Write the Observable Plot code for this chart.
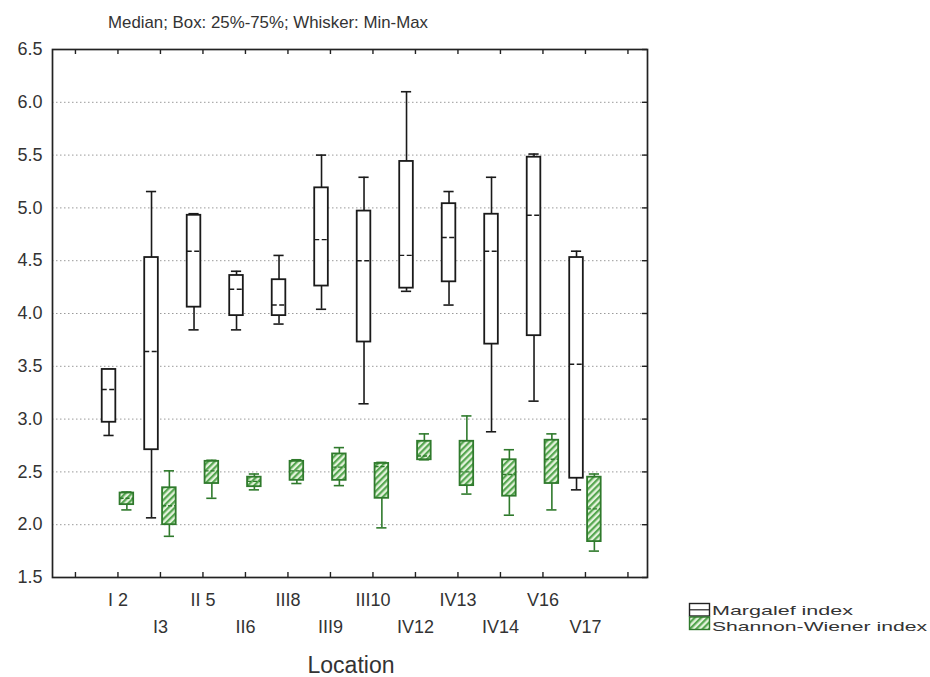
<!DOCTYPE html>
<html>
<head>
<meta charset="utf-8">
<script src="https://cdn.jsdelivr.net/npm/d3@7"></script>
<script src="https://cdn.jsdelivr.net/npm/@observablehq/plot@0.6"></script>
<style>
  html, body { margin: 0; padding: 0; background: #fff; }
  #wrap { position: relative; width: 930px; height: 677px; overflow: hidden; }
  #overlay { position: absolute; left: 0; top: 0; pointer-events: none; }
  svg text { font-family: "Liberation Sans", Arial, sans-serif; }
</style>
</head>
<body>
<div id="wrap">
  <div id="chart"></div>
  <svg id="overlay" width="930" height="677" xmlns="http://www.w3.org/2000/svg">
    <defs>
      <pattern id="hatchLegend" width="4.5" height="4.5" patternUnits="userSpaceOnUse" patternTransform="rotate(45)">
        <rect width="4.5" height="4.5" fill="#e4f3dc"></rect>
        <rect width="2.2" height="4.5" fill="#55a650"></rect>
      </pattern>
    </defs>
    <text x="108" y="28" font-size="17" fill="#333" textLength="320" lengthAdjust="spacingAndGlyphs">Median; Box: 25%-75%; Whisker: Min-Max</text>
    <text x="351" y="673" font-size="23" fill="#333" text-anchor="middle">Location</text>
    <rect x="689.5" y="603.5" width="20" height="12.5" fill="#fff" stroke="#222" stroke-width="1.4"></rect>
    <line x1="689.5" x2="709.5" y1="609.8" y2="609.8" stroke="#222" stroke-width="1.2"></line>
    <rect x="689.5" y="617" width="20" height="12.5" fill="url(#hatchLegend)" stroke="#2f7a2c" stroke-width="1.4"></rect>
    <text x="712" y="615" font-size="13.5" fill="#333" textLength="141" lengthAdjust="spacingAndGlyphs">Margalef index</text>
    <text x="712" y="630.5" font-size="13.5" fill="#333" textLength="215" lengthAdjust="spacingAndGlyphs">Shannon-Wiener index</text>
  </svg>
</div>
<script>
// ---- Data ----
const locations = ["I 2", "I3", "II 5", "II6", "III8", "III9", "III10", "IV12", "IV13", "IV14", "V16", "V17"];

// Margalef index: min, Q1 (25%), median, Q3 (75%), max
const margalefMin = [2.845, 2.065, 3.845, 3.845, 3.90, 4.04, 3.145, 4.21, 4.08, 2.88, 3.17, 2.33];
const margalefQ1  = [2.97, 2.71, 4.06, 3.98, 3.98, 4.26, 3.73, 4.24, 4.30, 3.71, 3.79, 2.44];
const margalefMed = [3.28, 3.64, 4.59, 4.23, 4.08, 4.70, 4.50, 4.55, 4.72, 4.59, 4.93, 3.52];
const margalefQ3  = [3.47, 4.53, 4.93, 4.36, 4.32, 5.19, 4.97, 5.44, 5.04, 4.94, 5.48, 4.53];
const margalefMax = [3.47, 5.155, 4.945, 4.40, 4.55, 5.50, 5.29, 6.10, 5.155, 5.29, 5.51, 4.59];

// Shannon-Wiener index: min, Q1, median, Q3, max
const shannonMin = [2.14, 1.89, 2.25, 2.33, 2.39, 2.37, 1.97, 2.615, 2.29, 2.09, 2.14, 1.75];
const shannonQ1  = [2.19, 2.00, 2.39, 2.36, 2.42, 2.42, 2.25, 2.615, 2.37, 2.27, 2.39, 1.84];
const shannonMed = [2.25, 2.18, 2.51, 2.41, 2.51, 2.545, 2.55, 2.65, 2.50, 2.475, 2.62, 2.15];
const shannonQ3  = [2.30, 2.35, 2.60, 2.45, 2.60, 2.67, 2.58, 2.79, 2.79, 2.615, 2.80, 2.45];
const shannonMax = [2.31, 2.51, 2.61, 2.48, 2.615, 2.73, 2.59, 2.86, 3.03, 2.71, 2.86, 2.48];

const yTickValues = [1.5, 2.0, 2.5, 3.0, 3.5, 4.0, 4.5, 5.0, 5.5, 6.0, 6.5];
const gridValues = [2.0, 2.5, 3.0, 3.5, 4.0, 4.5, 5.0, 5.5, 6.0];

// ---- Build tables ----
function buildRows(series, mins, q1s, meds, q3s, maxs) {
  return locations.map((loc, i) => ({
    loc, idx: i + 1, series,
    min: mins[i], q1: q1s[i], med: meds[i], q3: q3s[i], max: maxs[i]
  }));
}
const margalefRows = buildRows("Margalef index", margalefMin, margalefQ1, margalefMed, margalefQ3, margalefMax);
const shannonRows = buildRows("Shannon-Wiener index", shannonMin, shannonQ1, shannonMed, shannonQ3, shannonMax);
const labelRows = locations.map((loc, i) => ({loc, idx: i + 1, row: i % 2}));
const slots = d3.range(0, locations.length + 2);

// ---- Layout ----
const W = 930, H = 677, mL = 52, mR = 283, mT = 49, mB = 100;
const plotW = W - mL - mR, plotH = H - mT - mB;
const tickLen = 5;
const boxHalf = 0.16, capHalf = 0.12;

function boxMarks(rows, off, stroke, fill, medDash) {
  const cx = d => d.idx + off;
  return [
    Plot.ruleX(rows, {x: cx, y1: "min", y2: "max", stroke, strokeWidth: 1.6}),
    Plot.ruleY(rows, {y: "max", x1: d => cx(d) - capHalf, x2: d => cx(d) + capHalf, stroke, strokeWidth: 1.6}),
    Plot.ruleY(rows, {y: "min", x1: d => cx(d) - capHalf, x2: d => cx(d) + capHalf, stroke, strokeWidth: 1.6}),
    Plot.rect(rows, {x1: d => cx(d) - boxHalf, x2: d => cx(d) + boxHalf, y1: "q1", y2: "q3", fill, stroke, strokeWidth: 1.8}),
    Plot.ruleY(rows, {y: "med", x1: d => cx(d) - boxHalf, x2: d => cx(d) + boxHalf, stroke, strokeWidth: 1.4, strokeDasharray: medDash})
  ];
}

const chart = Plot.plot({
  width: W, height: H,
  marginLeft: mL, marginRight: mR, marginTop: mT, marginBottom: mB,
  style: {fontFamily: "'Liberation Sans', Arial, sans-serif", background: "#fff", color: "#333"},
  x: {type: "linear", domain: [-0.54, locations.length + 1.46], axis: null},
  y: {type: "linear", domain: [1.5, 6.5]},
  marks: [
    Plot.ruleY(gridValues, {stroke: "#9a9a9a", strokeWidth: 1, strokeDasharray: "1.5,2.5"}),
    Plot.ruleX(slots, {x: d => d, insetTop: plotH - tickLen, stroke: "#222", strokeWidth: 1.4}),
    Plot.ruleX(slots, {x: d => d, insetBottom: plotH - tickLen, stroke: "#222", strokeWidth: 1.4}),
    Plot.ruleY(yTickValues, {insetLeft: plotW - tickLen, stroke: "#222", strokeWidth: 1.4}),
    ...boxMarks(margalefRows, -0.21, "#1a1a1a", "#ffffff", "5,2.5"),
    ...boxMarks(shannonRows, 0.21, "#2f7a2c", "url(#hatch)", "4,2"),
    Plot.frame({stroke: "#222", strokeWidth: 1.7}),
    Plot.axisY({ticks: yTickValues, tickSize: 0, tickPadding: 10, tickFormat: d3.format(".1f"), fontSize: 18, fill: "#333"}),
    Plot.text(labelRows.filter(d => d.row === 0), {x: "idx", text: "loc", frameAnchor: "bottom", dy: 23, lineAnchor: "middle", fontSize: 18, fill: "#333"}),
    Plot.text(labelRows.filter(d => d.row === 1), {x: "idx", text: "loc", frameAnchor: "bottom", dy: 50, lineAnchor: "middle", fontSize: 18, fill: "#333"})
  ]
});

d3.select(chart).insert("defs", ":first-child").html(
  `<pattern id="hatch" width="4.5" height="4.5" patternUnits="userSpaceOnUse" patternTransform="rotate(45)">
     <rect width="4.5" height="4.5" fill="#e4f3dc"></rect>
     <rect width="2.2" height="4.5" fill="#55a650"></rect>
   </pattern>`
);
document.getElementById("chart").appendChild(chart);
</script>
</body>
</html>
